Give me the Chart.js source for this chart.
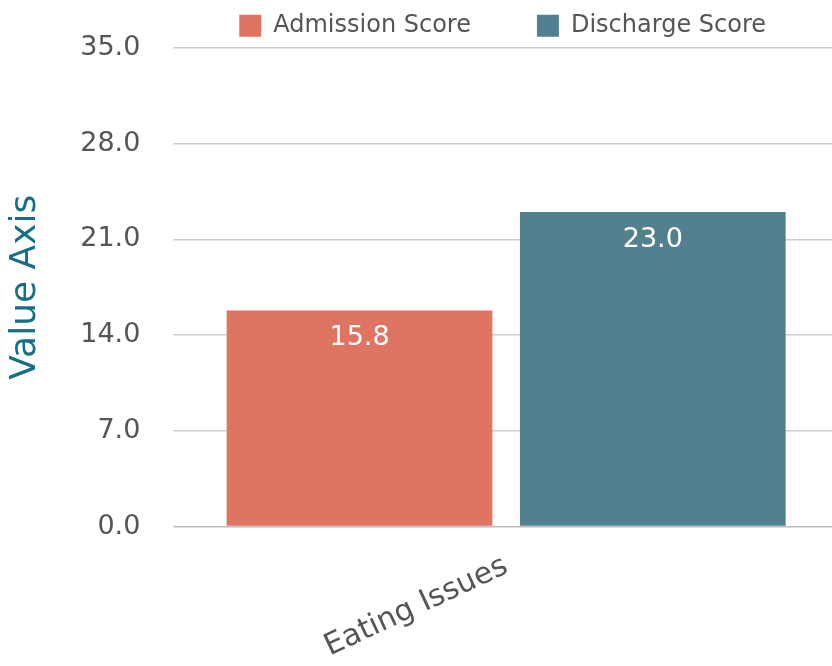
<!DOCTYPE html>
<html>
<head>
<meta charset="utf-8">
<script src="https://cdn.jsdelivr.net/npm/chart.js@4.4.1/dist/chart.umd.min.js"></script>
<style>
    html, body { margin: 0; padding: 0; background: #fff; }
    #wrap { width: 832px; height: 666px; }
</style>
</head>
<body>
<div id="wrap"><canvas id="chart"></canvas></div>
<script>
// dados do gráfico
const categories = ['Eating Issues'];
const admissionScores = [15.8];
const dischargeScores = [23.0];
const seriesNames = ['Admission Score', 'Discharge Score'];
const yTicks = [0, 7, 14, 21, 28, 35];

const FONT = "'DejaVu Sans', sans-serif";

// rótulos brancos dentro das barras
const barLabels = {
    id: 'barLabels',
    afterDatasetsDraw(chart) {
        const ctx = chart.ctx;
        ctx.save();
        ctx.fillStyle = '#ffffff';
        ctx.font = '27px ' + FONT;
        ctx.textAlign = 'center';
        ctx.textBaseline = 'middle';
        chart.data.datasets.forEach((ds, i) => {
            const meta = chart.getDatasetMeta(i);
            meta.data.forEach((bar, j) => {
                ctx.fillText(ds.data[j].toFixed(1), bar.x, bar.y + 28);
            });
        });
        ctx.restore();
    }
};

new Chart(document.getElementById('chart'), {
    type: 'bar',
    data: {
        labels: categories,
        datasets: [
            {
                label: seriesNames[0],
                data: admissionScores,
                backgroundColor: '#e07462'
            },
            {
                label: seriesNames[1],
                data: dischargeScores,
                backgroundColor: '#52808f'
            }
        ]
    },
    options: {
        responsive: true,
        maintainAspectRatio: false,
        animation: false,
        categoryPercentage: 0.9,
        barPercentage: 0.906,
        // legenda usa padding grande só para espaçar os itens, então puxo pra cima
        layout: { padding: { left: 4, right: 0, top: -70, bottom: -13 } },
        plugins: {
            legend: {
                position: 'top',
                align: 'end',
                labels: {
                    boxWidth: 22,
                    boxHeight: 22,
                    padding: 66,
                    color: '#555',
                    font: { family: FONT, size: 24 }
                }
            },
            tooltip: { enabled: false }
        },
        scales: {
            x: {
                grid: { display: false },
                border: { display: false },
                ticks: {
                    color: '#555',
                    minRotation: 25,
                    maxRotation: 25,
                    padding: 14,
                    font: { family: FONT, size: 30 }
                }
            },
            y: {
                min: yTicks[0],
                max: yTicks[yTicks.length - 1],
                afterBuildTicks: axis => {
                    axis.ticks = yTicks.map(v => ({ value: v }));
                },
                border: { display: false },
                grid: {
                    color: c => c.tick && c.tick.value === 0 ? '#bbb' : '#ccc',
                    lineWidth: 1.5,
                    tickLength: 7
                },
                ticks: {
                    color: '#555',
                    padding: 33,
                    font: { family: FONT, size: 27, lineHeight: 1.1 },
                    callback: v => v.toFixed(1)
                },
                title: {
                    display: true,
                    text: 'Value Axis',
                    color: '#176f86',
                    padding: 0,
                    font: { family: FONT, size: 36 }
                }
            }
        }
    },
    plugins: [barLabels]
});
</script>
</body>
</html>
